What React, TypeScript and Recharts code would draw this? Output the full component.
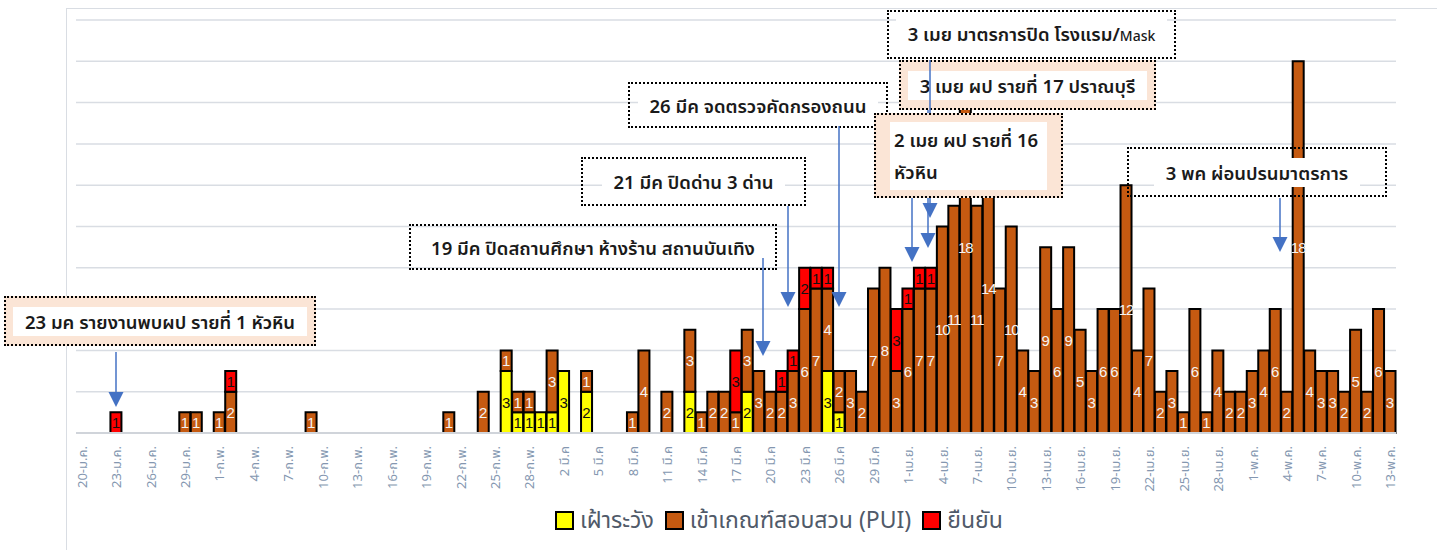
import { BarChart, Bar, XAxis, YAxis, CartesianGrid, LabelList } from 'recharts';

// ---- data: one value per day, split by month ----
const janWatch = [0, 0, 0, 0, 0, 0, 0, 0, 0, 0, 0, 0];
const janPui = [0, 0, 0, 0, 0, 0, 0, 0, 0, 1, 1, 0];
const janConf = [0, 0, 0, 1, 0, 0, 0, 0, 0, 0, 0, 0];

const febWatch = [0, 0, 0, 0, 0, 0, 0, 0, 0, 0, 0, 0, 0, 0, 0, 0, 0, 0, 0, 0, 0, 0, 0, 0, 0, 3, 1, 1, 1];
const febPui = [1, 2, 0, 0, 0, 0, 0, 0, 1, 0, 0, 0, 0, 0, 0, 0, 0, 0, 0, 0, 1, 0, 0, 2, 0, 1, 1, 1, 0];
const febConf = [0, 1, 0, 0, 0, 0, 0, 0, 0, 0, 0, 0, 0, 0, 0, 0, 0, 0, 0, 0, 0, 0, 0, 0, 0, 0, 0, 0, 0];

const marWatch = [1, 3, 0, 2, 0, 0, 0, 0, 0, 0, 0, 0, 2, 0, 0, 0, 0, 2, 0, 0, 0, 0, 0, 0, 3, 1, 0, 0, 0, 0, 0];
const marPui = [3, 0, 0, 1, 0, 0, 0, 1, 4, 0, 2, 0, 3, 1, 2, 2, 1, 3, 3, 2, 2, 3, 6, 7, 4, 2, 3, 2, 7, 8, 3];
const marConf = [0, 0, 0, 0, 0, 0, 0, 0, 0, 0, 0, 0, 0, 0, 0, 0, 3, 0, 0, 0, 1, 1, 2, 1, 1, 0, 0, 0, 0, 0, 3];

const aprWatch = [0, 0, 0, 0, 0, 0, 0, 0, 0, 0, 0, 0, 0, 0, 0, 0, 0, 0, 0, 0, 0, 0, 0, 0, 0, 0, 0, 0, 0, 0];
const aprPui = [6, 7, 7, 10, 11, 18, 11, 14, 7, 10, 4, 3, 9, 6, 9, 5, 3, 6, 6, 12, 4, 7, 2, 3, 1, 6, 1, 4, 2, 2];
const aprConf = [1, 1, 1, 0, 0, 0, 0, 0, 0, 0, 0, 0, 0, 0, 0, 0, 0, 0, 0, 0, 0, 0, 0, 0, 0, 0, 0, 0, 0, 0];

const mayWatch = [0, 0, 0, 0, 0, 0, 0, 0, 0, 0, 0, 0, 0];
const mayPui = [3, 4, 6, 2, 18, 4, 3, 3, 2, 5, 2, 6, 3];
const mayConf = [0, 0, 0, 0, 0, 0, 0, 0, 0, 0, 0, 0, 0];

const MONTHS = [
  { abbr: 'ม.ค.', sep: '-', from: 20, watch: janWatch, pui: janPui, conf: janConf },
  { abbr: 'ก.พ.', sep: '-', from: 1, watch: febWatch, pui: febPui, conf: febConf },
  { abbr: 'มี.ค', sep: ' ', from: 1, watch: marWatch, pui: marPui, conf: marConf },
  { abbr: 'เม.ย.', sep: '-', from: 1, watch: aprWatch, pui: aprPui, conf: aprConf },
  { abbr: 'พ.ค.', sep: '-', from: 1, watch: mayWatch, pui: mayPui, conf: mayConf },
];

const Y_TICKS = [0, 2, 4, 6, 8, 10, 12, 14, 16, 18, 20];

const SERIES = [
  { key: 'watch', name: 'เฝ้าระวัง', color: '#ffff00', text: '#111' },
  { key: 'pui', name: 'เข้าเกณฑ์สอบสวน (PUI)', color: '#c55a11', text: '#f4f4f4' },
  { key: 'conf', name: 'ยืนยัน', color: '#ff0000', text: '#111' },
];

const data = MONTHS.flatMap((m) =>
  m.pui.map((v, i) => ({
    label: `${m.from + i}${m.sep}${m.abbr}`,
    watch: m.watch[i],
    pui: v,
    conf: m.conf[i],
  }))
);

const FONT = "'Noto Sans', 'Noto Sans Thai', Tahoma, sans-serif";

const makeLabel = (color: string) => (props: any) => {
  const { x, y, width, height, value } = props;
  if (!value) return null;
  return (
    <text
      x={x + width / 2}
      y={y + height / 2}
      fill={color}
      textAnchor="middle"
      dominantBaseline="central"
      fontSize={15}
      letterSpacing={value >= 10 ? -1 : 0}
      fontFamily="'Liberation Sans Narrow', 'Liberation Sans', sans-serif"
    >
      {value}
    </text>
  );
};

const DateTick = (props: any) => {
  const { x, y, payload } = props;
  return (
    <text
      x={x}
      y={y}
      transform={`rotate(-90 ${x} ${y})`}
      textAnchor="end"
      dominantBaseline="central"
      fill="#8497b0"
      fontSize={13}
      fontFamily={FONT}
    >
      {payload.value}
    </text>
  );
};

// callout boxes (page pixels)
const BOXES = [
  { text: ['23 มค รายงานพบผป รายที่ 1 หัวหิน'], left: 4, top: 296, w: 312, h: 50, peach: true },
  { text: ['19 มีค ปิดสถานศึกษา ห้างร้าน สถานบันเทิง'], left: 409, top: 224, w: 368, h: 46 },
  { text: ['21 มีค ปิดด่าน 3 ด่าน'], left: 581, top: 157, w: 225, h: 49 },
  { text: ['26 มีค จดตรวจคัดกรองถนน'], left: 628, top: 82, w: 260, h: 46 },
  { text: ['3 เมย มาตรการปิด โรงแรม/'], small: 'Mask', left: 887, top: 10, w: 289, h: 49 },
  { text: ['3 เมย ผป รายที่ 17 ปราณบุรี'], left: 899, top: 60, w: 257, h: 50, peach: true },
  { text: ['3 พค ผ่อนปรนมาตรการ'], left: 1127, top: 147, w: 260, h: 50 },
];
const TOP_BOX = { text: ['2 เมย ผป รายที่ 16', 'หัวหิน'], left: 874, top: 113, w: 189, h: 85, peach: true };

const ARROWS = [
  { x: 116, y1: 352, y2: 407 },
  { x: 763, y1: 258, y2: 356 },
  { x: 788, y1: 206, y2: 307 },
  { x: 839, y1: 126, y2: 307 },
  { x: 912, y1: 198, y2: 262 },
  { x: 930, y1: 60, y2: 218 },
  { x: 928, y1: 110, y2: 248 },
  { x: 1280, y1: 198, y2: 252 },
];

function Callout({ b }: { b: any }) {
  const multi = b.text.length > 1;
  return (
    <div
      style={{
        position: 'absolute',
        left: b.left,
        top: b.top,
        width: b.w,
        height: b.h,
        boxSizing: 'border-box',
        border: '2px dotted #000',
        background: b.peach ? '#fbe5d6' : 'transparent',
        display: 'flex',
        alignItems: 'center',
        justifyContent: multi ? 'flex-start' : 'center',
        padding: multi ? '8px 14px' : 0,
      }}
    >
      <div
        style={{
          background: '#fff',
          padding: multi ? '2px 4px' : '1px 12px',
          fontFamily: FONT,
          fontSize: 18.5,
          fontWeight: 600,
          color: '#1a1a1a',
          lineHeight: multi ? '32px' : '27px',
          whiteSpace: 'nowrap',
          width: multi ? '100%' : undefined,
          boxSizing: 'border-box',
        }}
      >
        {b.text.map((t: string, i: number) => (
          <div key={i}>
            {t}
            {b.small && <span style={{ fontSize: 14, fontWeight: 500 }}>{b.small}</span>}
          </div>
        ))}
      </div>
    </div>
  );
}

export default function App() {
  return (
    <div style={{ position: 'absolute', left: 0, top: 0, width: 1437, height: 550, background: '#fff', overflow: 'hidden' }}>
      <div
        style={{
          position: 'absolute',
          left: 66,
          top: 8,
          width: 1400,
          height: 600,
          borderLeft: '1.5px solid #d9dde3',
          borderTop: '1.5px solid #d9dde3',
        }}
      />
      <div style={{ position: 'absolute', left: 0, top: 0 }}>
        <BarChart
          width={1437}
          height={550}
          data={data}
          margin={{ top: 20, right: 41, left: 76, bottom: 0 }}
          barCategoryGap={0}
        >
          <CartesianGrid vertical={false} stroke="#d9dde3" strokeWidth={1.5} />
          <YAxis hide domain={[0, 20]} ticks={Y_TICKS} />
          <XAxis
            dataKey="label"
            interval={2}
            height={117}
            tick={<DateTick />}
            tickLine={false}
            tickMargin={7}
            axisLine={{ stroke: '#d0d4da', strokeWidth: 2 }}
          />
          {SERIES.map((s) => (
            <Bar
              key={s.key}
              dataKey={s.key}
              name={s.name}
              stackId="a"
              fill={s.color}
              stroke="#000"
              strokeWidth={2}
              isAnimationActive={false}
            >
              <LabelList dataKey={s.key} content={makeLabel(s.text)} />
            </Bar>
          ))}
        </BarChart>
      </div>

      {BOXES.map((b, i) => (
        <Callout key={i} b={b} />
      ))}

      <svg style={{ position: 'absolute', left: 0, top: 0 }} width={1437} height={550}>
        {ARROWS.map((a, i) => (
          <g key={i}>
            <line x1={a.x} y1={a.y1} x2={a.x} y2={a.y2 - 12} stroke="#4472c4" strokeWidth={1.5} />
            <polygon
              points={`${a.x - 7.5},${a.y2 - 15} ${a.x + 7.5},${a.y2 - 15} ${a.x},${a.y2}`}
              fill="#4472c4"
            />
          </g>
        ))}
      </svg>

      <Callout b={TOP_BOX} />

      <div
        style={{
          position: 'absolute',
          left: 555,
          top: 503,
          display: 'flex',
          alignItems: 'center',
          fontFamily: FONT,
          fontSize: 23,
          color: '#505a69',
          whiteSpace: 'nowrap',
        }}
      >
        {SERIES.map((s) => (
          <div key={s.key} style={{ display: 'flex', alignItems: 'center', marginRight: 11 }}>
            <span
              style={{
                display: 'inline-block',
                width: 19,
                height: 19,
                boxSizing: 'border-box',
                border: '2px solid #000',
                background: s.color,
                marginRight: 6,
              }}
            />
            <span>{s.name}</span>
          </div>
        ))}
      </div>
    </div>
  );
}
